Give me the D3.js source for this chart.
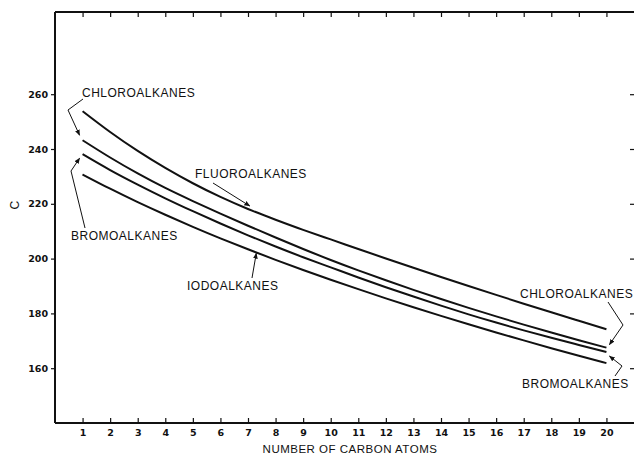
<!DOCTYPE html>
<html>
<head>
<meta charset="utf-8">
<script src="https://cdn.jsdelivr.net/npm/d3@7"></script>
<style>
  body { margin: 0; background: #fff; }
  svg { display: block; }
  .lbl { font-family: "Liberation Sans", Arial, sans-serif; font-size: 12px; fill: #111; letter-spacing: 0.5px; }
  .title { font-size: 11.5px; }
  .tick-lbl { font-family: "DejaVu Sans", sans-serif; font-size: 9.5px; font-weight: bold; fill: #111; }
</style>
</head>
<body>
<div id="chart"></div>
<script>
'use strict';

// carbon atom counts
const carbons = d3.range(1, 21);

// values
const fluoroalkanes = [253.8, 246.2, 239.3, 233.1, 227.5, 222.5, 218.1, 214.2, 210.5, 207.0,
  203.5, 200.05, 196.65, 193.3, 190.0, 186.75, 183.55, 180.4, 177.3, 174.2];
const chloroalkanes = [243.2, 236.9, 231.1, 225.8, 221.0, 216.4, 212.0, 207.7, 203.5, 199.5,
  195.7, 192.1, 188.6, 185.25, 182.0, 178.9, 175.9, 173.0, 170.2, 167.5];
const bromoalkanes = [238.1, 232.3, 227.0, 222.0, 217.3, 212.8, 208.5, 204.4, 200.5, 196.8,
  193.1, 189.55, 186.15, 182.85, 179.65, 176.65, 173.8, 171.1, 168.5, 165.9];
const iodoalkanes = [230.7, 225.5, 220.6, 216.0, 211.6, 207.4, 203.4, 199.55, 195.85, 192.3,
  188.85, 185.5, 182.25, 179.1, 176.05, 173.05, 170.15, 167.3, 164.55, 161.85];

const yTicks = [160, 180, 200, 220, 240, 260];
const xTicks = d3.range(1, 21);

const width = 635, height = 454;
const margin = { top: 12, right: 1, bottom: 31, left: 55 };

const svg = d3.select('#chart').append('svg')
  .attr('width', width)
  .attr('height', height);

const x = d3.scaleLinear().domain([0, 21]).range([margin.left, width - margin.right]);
const y = d3.scaleLinear().domain([140, 290]).range([height - margin.bottom, margin.top]);

// frame
const frame = svg.append('g').attr('stroke', '#111').attr('stroke-width', 2).attr('fill', 'none');
frame.append('line').attr('x1', x(0)).attr('x2', x(21)).attr('y1', y(140)).attr('y2', y(140));
frame.append('line').attr('x1', x(0)).attr('x2', x(21)).attr('y1', y(290)).attr('y2', y(290));
frame.append('line').attr('x1', x(0)).attr('x2', x(0)).attr('y1', y(140)).attr('y2', y(290));

// bottom axis: ticks inward
const xAxis = svg.append('g')
  .attr('transform', `translate(0,${y(140)})`)
  .call(d3.axisBottom(x).tickValues(xTicks).tickSizeInner(-5).tickSizeOuter(0).tickPadding(6));
xAxis.select('.domain').remove();
xAxis.selectAll('line').attr('stroke', '#111').attr('stroke-width', 1.2);
xAxis.selectAll('text').attr('class', 'tick-lbl').attr('font-family', null).attr('font-size', null);

// top axis ticks
const topAxis = svg.append('g')
  .attr('transform', `translate(0,${y(290)})`)
  .call(d3.axisTop(x).tickValues(xTicks).tickSizeInner(-5).tickSizeOuter(0).tickFormat(''));
topAxis.select('.domain').remove();
topAxis.selectAll('line').attr('stroke', '#111').attr('stroke-width', 1.2);

// left axis: ticks outward
const yAxis = svg.append('g')
  .attr('transform', `translate(${x(0)},0)`)
  .call(d3.axisLeft(y).tickValues(yTicks).tickSizeInner(4).tickSizeOuter(0).tickPadding(3));
yAxis.select('.domain').remove();
yAxis.selectAll('line').attr('stroke', '#111').attr('stroke-width', 1.2);
yAxis.selectAll('text').attr('class', 'tick-lbl').attr('font-family', null).attr('font-size', null);

// right axis ticks (edge of the frame)
const rightAxis = svg.append('g')
  .attr('transform', `translate(${width - 1},0)`)
  .call(d3.axisRight(y).tickValues(yTicks).tickSizeInner(-4).tickSizeOuter(0).tickFormat(''));
rightAxis.select('.domain').remove();
rightAxis.selectAll('line').attr('stroke', '#111').attr('stroke-width', 1.2);

// axis titles
svg.append('text').attr('class', 'lbl title')
  .attr('x', 350).attr('y', 453).attr('text-anchor', 'middle')
  .text('NUMBER OF CARBON ATOMS');
svg.append('text').attr('class', 'lbl')
  .attr('transform', `translate(19,205) rotate(-90)`).attr('text-anchor', 'middle')
  .text('C');

// curves
const series = [fluoroalkanes, chloroalkanes, bromoalkanes, iodoalkanes];
const line = d3.line()
  .x((d, i) => x(carbons[i]))
  .y(d => y(d))
  .curve(d3.curveNatural);

svg.append('g').selectAll('path')
  .data(series)
  .join('path')
  .attr('d', line)
  .attr('fill', 'none')
  .attr('stroke', '#111')
  .attr('stroke-width', 2);

// labels with leader arrows
svg.append('defs').append('marker')
  .attr('id', 'arr')
  .attr('viewBox', '0 0 10 10')
  .attr('refX', 9).attr('refY', 5)
  .attr('markerWidth', 6).attr('markerHeight', 6)
  .attr('orient', 'auto')
  .append('path').attr('d', 'M0,1 L10,5 L0,9 z').attr('fill', '#111');

const labels = [
  { text: 'CHLOROALKANES', x: 82, y: 97 },
  { text: 'BROMOALKANES', x: 71, y: 240 },
  { text: 'FLUOROALKANES', x: 195, y: 178 },
  { text: 'IODOALKANES', x: 187, y: 290 },
  { text: 'CHLOROALKANES', x: 520, y: 298 },
  { text: 'BROMOALKANES', x: 522, y: 388 }
];
svg.append('g').selectAll('text')
  .data(labels)
  .join('text')
  .attr('class', 'lbl')
  .attr('x', d => d.x).attr('y', d => d.y)
  .text(d => d.text);

// leader lines point to the curve ends
const leaders = [
  [[83, 99], [68, 110], [x(1) - 3, y(chloroalkanes[0]) - 5]],
  [[85, 228], [71, 171], [x(1) - 3, y(bromoalkanes[0]) + 4]],
  [[213, 183], [x(7.1) - 1, y(fluoroalkanes[6]) - 3]],
  [[252, 278], [x(7.3), y(iodoalkanes[6]) + 4]],
  [[608, 302], [623, 325], [x(20) + 3, y(chloroalkanes[19]) - 3]],
  [[615, 376], [622, 366], [x(20) + 3, y(bromoalkanes[19]) + 4]]
];
svg.append('g').selectAll('path')
  .data(leaders)
  .join('path')
  .attr('d', d => d3.line()(d))
  .attr('fill', 'none')
  .attr('stroke', '#111')
  .attr('stroke-width', 1)
  .attr('marker-end', 'url(#arr)');
</script>
</body>
</html>
